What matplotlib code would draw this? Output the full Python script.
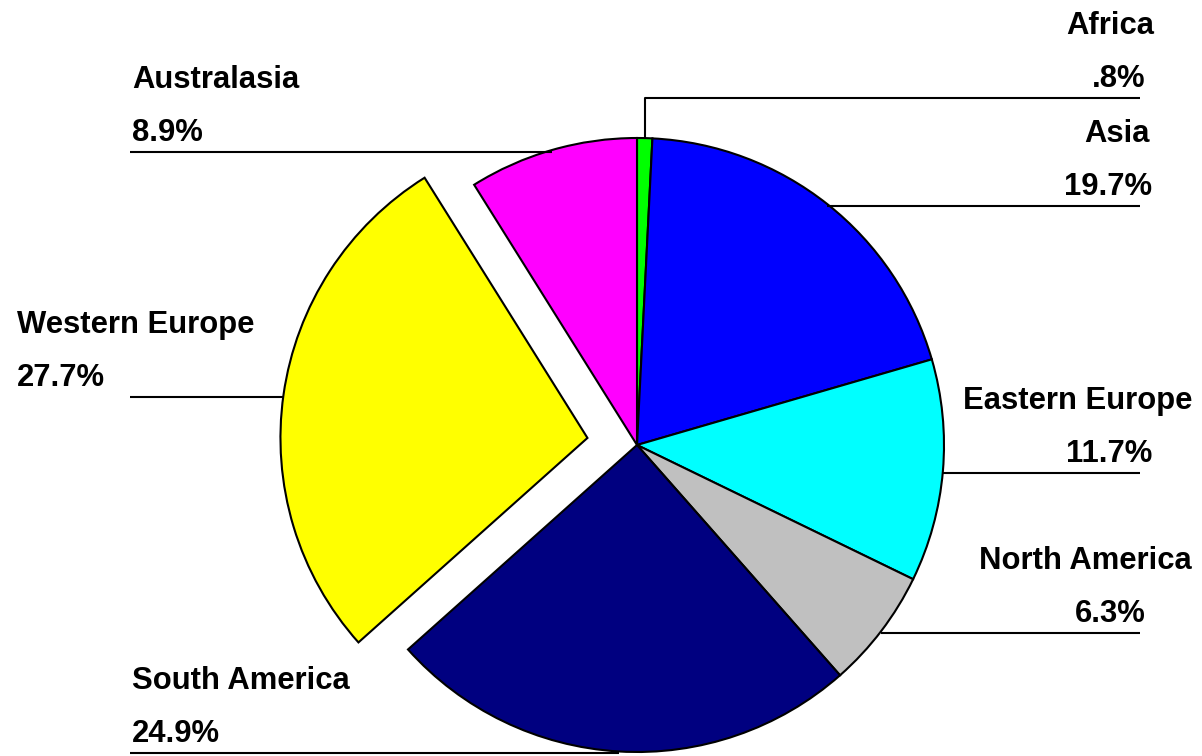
import numpy as np
import matplotlib
matplotlib.use("Agg")
import matplotlib.pyplot as plt

# ---- data ----
regions = ["Africa", "Asia", "Eastern Europe", "North America",
           "South America", "Western Europe", "Australasia"]
shares = [0.8, 19.7, 11.7, 6.3, 24.9, 27.7, 8.9]
colors = ["#00FF00", "#0000FF", "#00FFFF", "#C0C0C0",
          "#000080", "#FFFF00", "#FF00FF"]
exploded = "Western Europe"

W, H = 1202, 756
fig = plt.figure(figsize=(W / 100, H / 100), dpi=100)
ax = fig.add_axes([0, 0, 1, 1])

def Y(p):  # pixel row -> data y
    return H - p

cx, cy, R = 637, Y(445), 307
# matplotlib's explode offset is in data units, so scale the fraction by R
explode = [0.163 * R if r == exploded else 0 for r in regions]
wedges, _ = ax.pie(shares, colors=colors, startangle=90, counterclock=False,
                   center=(cx, cy), radius=R, explode=explode,
                   wedgeprops=dict(edgecolor="black", linewidth=1.5))
ax.set_xlim(0, W)
ax.set_ylim(0, H)
ax.set_aspect("equal")
ax.axis("off")

def fmt(v):
    s = f"{v:.1f}%"
    return s[1:] if s.startswith("0") else s

# label layout: side, name x, pct x, optional line row override
layout = {
    "Africa":         ("right", 1154, 1146, 98),
    "Asia":           ("right", 1150, 1152, None),
    "Eastern Europe": ("right", 1192, 1152, None),
    "North America":  ("right", 1192, 1146, None),
    "South America":  ("left", 132, 132, None),
    "Western Europe": ("left", 17, 17, None),
    "Australasia":    ("left", 132, 132, None),
}
font = dict(family=["Liberation Sans", "DejaVu Sans"], fontweight="bold",
            fontsize=22.3, color="black")

for w, name, v in zip(wedges, regions, shares):
    side, nx, px, line_row = layout[name]
    mid = np.deg2rad((w.theta1 + w.theta2) / 2)
    ax_x = w.center[0] + w.r * np.cos(mid)
    ax_y = w.center[1] + w.r * np.sin(mid)
    end_x = 1140 if side == "right" else 130
    if line_row is not None:
        ly = Y(line_row)
        ax.plot([ax_x, ax_x, end_x], [ax_y, ly, ly], color="black", lw=1.5,
                solid_capstyle="butt")
    else:
        ly = ax_y - 2
        ax.plot([ax_x, end_x], [ly, ly], color="black", lw=1.5,
                solid_capstyle="butt")
    ha = "right" if side == "right" else "left"
    ax.text(px, ly + 11, fmt(v), ha=ha, va="baseline", **font)
    ax.text(nx, ly + 64, name, ha=ha, va="baseline", **font)

fig.savefig("out.png", dpi=100)
